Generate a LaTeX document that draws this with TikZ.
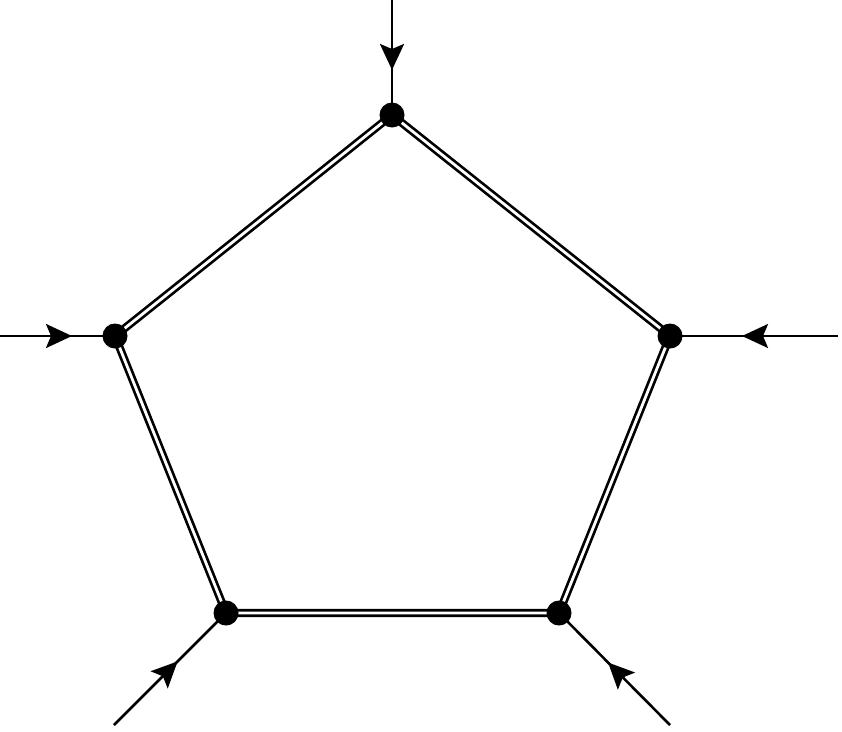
\documentclass[tikz,border=0pt]{standalone}
\usetikzlibrary{arrows.meta,decorations.markings}
\tikzset{
  dbl/.style={line width=2.7pt, double=white, double distance=2.8pt, draw=black},
  tipshape/.tip={Stealth[length=26pt,width=24pt,inset=5pt]},
  leg/.style={line width=2.6pt, postaction={decorate}, decoration={markings, mark=at position #1 with {\arrow{tipshape}}}},
  dot/.style={circle, fill=black, inner sep=0pt, minimum size=25pt}
}
\begin{document}
\begin{tikzpicture}[x=1pt,y=-1pt]
\useasboundingbox (0,0) rectangle (842,731);
\coordinate (T) at (392,115);
\coordinate (L) at (115,336);
\coordinate (R) at (670,336);
\coordinate (BL) at (226,613);
\coordinate (BR) at (559,613);
\coordinate (oT) at (392,0);
\coordinate (oL) at (0,336);
\coordinate (oR) at (838,336);
\coordinate (oBL) at (114,725);
\coordinate (oBR) at (670,725);
\draw[dbl] (T) -- (R) -- (BR) -- (BL) -- (L) -- cycle;
\draw[leg=70pt] (oT) -- (T);
\draw[leg=72pt] (oL) -- (L);
\draw[leg=96pt] (oR) -- (R);
\draw[leg=90pt] (oBL) -- (BL);
\draw[leg=88pt] (oBR) -- (BR);
\node[dot] (vT) at (T) {};
\node[dot] (vL) at (L) {};
\node[dot] (vR) at (R) {};
\node[dot] (vBL) at (BL) {};
\node[dot] (vBR) at (BR) {};
\end{tikzpicture}
\end{document}
